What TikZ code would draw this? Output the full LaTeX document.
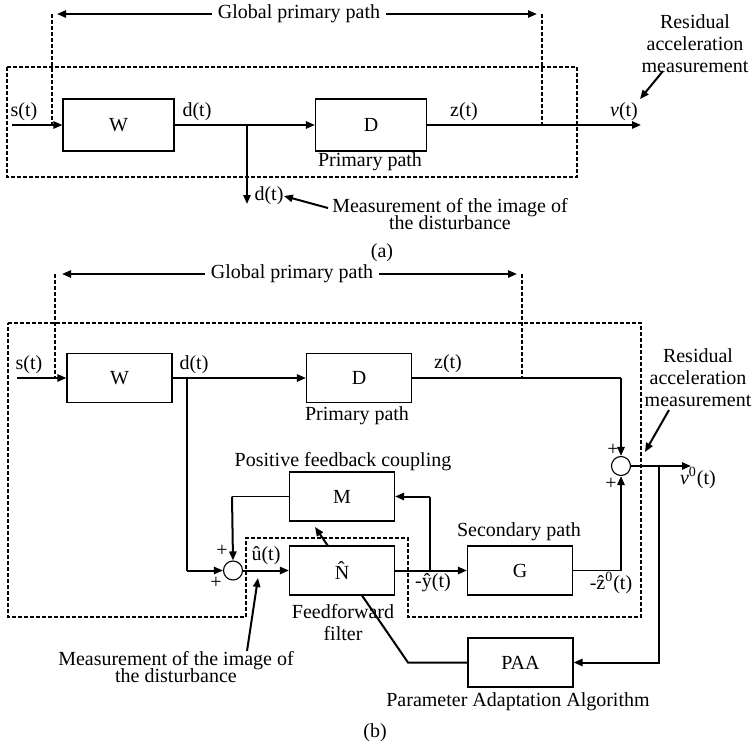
\documentclass[tikz,border=0pt]{standalone}
\usepackage{fontspec}
\setmainfont{Liberation Serif}
\usetikzlibrary{arrows.meta,backgrounds}
\begin{document}
\begin{tikzpicture}[x=0.5pt,y=-0.5pt,
  every node/.style={font=\fontsize{10}{11}\selectfont},
  blk/.style={draw, line width=0.55pt, fill=white, inner sep=0, minimum width=52.5pt, minimum height=24.5pt},
  blka/.style={blk, minimum width=55.5pt, minimum height=26pt},
  sumc/.style={draw, circle, line width=0.55pt, fill=white, inner sep=0, minimum size=9.5pt},
  lbl/.style={inner sep=0},
  thk/.style={line width=1pt},
  thn/.style={line width=0.55pt},
  arr/.style={-{Triangle[length=4.5pt,width=3.6pt]}},
  dsh/.style={line width=0.8pt, dash pattern=on 2pt off 1pt},
]
\useasboundingbox (0,0) rectangle (752,745);

%================ (a) ================
\draw[dsh] (7,67) rectangle (577,177);
\node[blka] (Wa) at (118.5,125) {W};
\node[blka] (Da) at (371,125) {D};
\coordinate (sa) at (12,125);
\coordinate (va) at (641,125);
\coordinate (ba) at (247,125);
\coordinate (bda) at (247,204);
\draw[thk,arr] (sa) -- (Wa);
\draw[thk,arr] (Wa) -- (Da);
\draw[thk,arr] (ba) -- (bda);
\draw[thk,arr] (Da) -- (va);
\node[lbl] (gpa) at (299,14) {Global primary path};
\coordinate (gla) at (52,14);
\coordinate (gra) at (542,14);
\draw[dsh] (gla) -- (52,125);
\draw[dsh] (gra) -- (542,125);
\draw[thk,arr] ([xshift=-3pt]gpa.west) -- (57,14);
\draw[thk,arr] ([xshift=3pt]gpa.east) -- (537,14);
\node[lbl] at (24,112) {s(t)};
\node[lbl] at (197,112) {d(t)};
\node[lbl] at (464,112) {z(t)};
\node[lbl] (nua) at (624,112) {{\itshape ν}(t)};
\node[lbl] (dta) at (269,196) {d(t)};
\node[lbl] at (370,162) {Primary path};
\node[lbl, align=center] (mta) at (450,214) {Measurement of the image of\\[-2.5pt]the disturbance};
\draw[thk,arr] (328,208) -- (dta.east);
\node[lbl, align=center] (raa) at (695,44) {Residual\\acceleration\\measurement};
\draw[thk,arr] (663,71) -- (640,99);
\node[lbl] at (382,253) {(a)};

%================ (b) ================
\draw[dsh] (8,323) -- (641,323) -- (641,617) -- (408,617) -- (408,538) -- (246,538) -- (246,617) -- (8,617) -- cycle;
\node[blk] (Wb) at (119.5,378) {W};
\node[blk] (Db) at (359,378) {D};
\node[blk] (Mb) at (342,496.5) {M};
\node[blk] (Nb) at (342,570.5) {\^{N}};
\node[blk] (Gb) at (520,570.5) {G};
\node[blk] (Pb) at (520.5,662.5) {PAA};
\node[sumc] (S1) at (621,466) {};
\node[sumc] (S2) at (233,570.5) {};

\coordinate (sb) at (17,378);
\coordinate (bdb) at (187,378);
\coordinate (bdb2) at (187,570.5);
\coordinate (zc) at (621,378);
\coordinate (vb) at (691,466);
\coordinate (pbr) at (659,466);
\coordinate (pbr2) at (659,662.5);
\coordinate (yb) at (430,570.5);
\coordinate (yb2) at (430,496.5);
\coordinate (mc) at (232,496.5);
\coordinate (gc) at (621,570.5);
\coordinate (pc) at (408,662.5);
\coordinate (ntip) at (315,527);

\draw[thk,arr] (sb) -- (Wb);
\draw[thk,arr] (Wb) -- (Db);
\draw[thn] (bdb) -- (bdb2);
\draw[thk,arr] (bdb2) -- (S2);
\draw[thn] (Db) -- (zc);
\draw[thk,arr] (zc) -- (S1.north);
\draw[thk,arr] (S1) -- (vb);
\draw[thk,arr] (pbr) -- (pbr2) -- (Pb);
\draw[thk,arr] (S2) -- (Nb);
\draw[thk,arr] (Nb) -- (Gb);
\draw[thn] (yb) -- (yb2);
\draw[thk,arr] (yb2) -- (Mb);
\draw[thn] (Mb) -- (mc);
\draw[thk,arr] (mc) -- (S2.north);
\draw[thn] (Gb) -- (gc);
\draw[thk,arr] (gc) -- (S1.south);
\begin{pgfonlayer}{background}
\draw[thk,arr] (Pb) -- (pc) -- (ntip);
\end{pgfonlayer}

\node[lbl] (gpb) at (292,274) {Global primary path};
\draw[dsh] (55,274) -- (55,378);
\draw[dsh] (522,274) -- (522,378);
\draw[thk,arr] ([xshift=-3pt]gpb.west) -- (62,274);
\draw[thk,arr] ([xshift=3pt]gpb.east) -- (517,274);

\node[lbl] at (29,365) {s(t)};
\node[lbl] at (194,365) {d(t)};
\node[lbl] at (448,364) {z(t)};
\node[lbl] at (357,416) {Primary path};
\node[lbl] at (343,462) {Positive feedback coupling};
\node[lbl] at (266,556) {\^{u}(t)};
\node[lbl] at (433,583) {-\^{y}(t)};
\node[lbl] at (519,532) {Secondary path};
\node[lbl] at (611,583) {-\^{z}\textsuperscript{0}(t)};
\node[lbl, align=center] at (343,623) {Feedforward\\filter};
\node[lbl, align=center] (mtb) at (176,667) {Measurement of the image of\\[-2.5pt]the disturbance};
\draw[thk,arr] (247,651) -- (258,578);
\node[lbl] at (518,702) {Parameter Adaptation Algorithm};
\node[lbl] at (375,733) {(b)};
\node[lbl] at (613,450) {+};
\node[lbl] at (611,484) {+};
\node[lbl] at (222,551) {+};
\node[lbl] at (216,583) {+};
\node[lbl] at (698,478) {{\itshape ν}\textsuperscript{0}(t)};
\node[lbl, align=center] (rab) at (698,378) {Residual\\acceleration\\measurement};
\draw[thk,arr] (669,410) -- (645,452);
\end{tikzpicture}
\end{document}
